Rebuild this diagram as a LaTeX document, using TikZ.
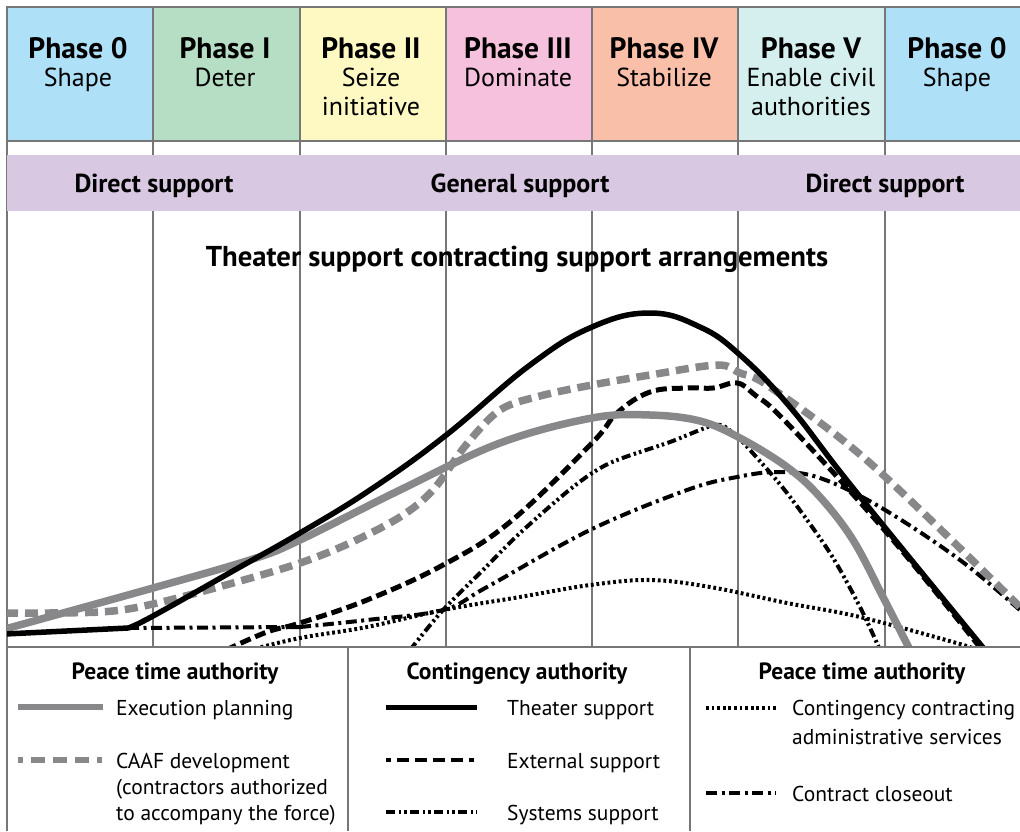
\documentclass[tikz,border=0pt]{standalone}
\usepackage{fontspec}
\setmainfont{PT Sans}
\definecolor{pzero}{HTML}{AEE0F7}
\definecolor{pone}{HTML}{B5DEC4}
\definecolor{ptwo}{HTML}{FEF8C3}
\definecolor{pthree}{HTML}{F6C1DC}
\definecolor{pfour}{HTML}{F9BFA8}
\definecolor{pfive}{HTML}{D5EFEE}
\definecolor{band}{HTML}{D9C8E1}
\definecolor{rule}{HTML}{777777}
\definecolor{curvegray}{HTML}{88888B}
\begin{document}
\begin{tikzpicture}[x=1pt,y=-1pt,
  frame/.style={draw=rule, line width=1.3pt},
  grid/.style={draw=rule, line width=1.1pt},
  ptitle/.style={anchor=base, font=\fontsize{29.5}{31}\selectfont\bfseries},
  psub/.style={anchor=base, font=\fontsize{26}{28}\selectfont},
  bandtxt/.style={anchor=base, font=\fontsize{26}{28}\selectfont\bfseries},
  legtitle/.style={anchor=base, font=\fontsize{23.5}{25}\selectfont\bfseries},
  legtxt/.style={anchor=base west, font=\fontsize{21.5}{23}\selectfont, inner sep=0pt},
  execline/.style={draw=curvegray, line width=7.5pt},
  caafline/.style={draw=curvegray, line width=7.5pt, dash pattern=on 13pt off 7pt},
  theaterline/.style={draw=black, line width=5.5pt},
  externalline/.style={draw=black, line width=5pt, dash pattern=on 11pt off 5pt},
  systemsline/.style={draw=black, line width=4pt, dash pattern=on 9pt off 3.5pt on 2.5pt off 3pt on 2.5pt off 3.5pt},
  closeline/.style={draw=black, line width=4pt, dash pattern=on 11pt off 4.5pt on 3pt off 4.5pt},
  adminline/.style={draw=black, line width=4pt, dash pattern=on 2.8pt off 2.8pt}
]
\useasboundingbox (0,0) rectangle (1020,831);
\fill[white] (0,0) rectangle (1020,831);

% phase boxes
\draw[frame, fill=pzero] (7,7) rectangle (153,141);
\draw[frame, fill=pone] (153,7) rectangle (300,141);
\draw[frame, fill=ptwo] (300,7) rectangle (446,141);
\draw[frame, fill=pthree] (446,7) rectangle (592,141);
\draw[frame, fill=pfour] (592,7) rectangle (738,141);
\draw[frame, fill=pfive] (738,7) rectangle (885,141);
\draw[frame, fill=pzero] (885,7) rectangle (1022,141);

\node[ptitle] (t0) at (78,58) {Phase 0};
\node[psub] (s0) at (78,86) {Shape};
\node[ptitle] (t1) at (225,58) {Phase I};
\node[psub] (s1) at (225,86) {Deter};
\node[ptitle] (t2) at (371,58) {Phase II};
\node[psub] (s2a) at (371,86) {Seize};
\node[psub] (s2b) at (371,115) {initiative};
\node[ptitle] (t3) at (518,58) {Phase III};
\node[psub] (s3) at (518,86) {Dominate};
\node[ptitle] (t4) at (664,58) {Phase IV};
\node[psub] (s4) at (664,86) {Stabilize};
\node[ptitle] (t5) at (811,58) {Phase V};
\node[psub] (s5a) at (811,86) {Enable civil};
\node[psub] (s5b) at (811,115) {authorities};
\node[ptitle] (t6) at (957,58) {Phase 0};
\node[psub] (s6) at (957,86) {Shape};

% vertical grid lines
\foreach \gx in {153,300,446,592,738,885}
  \draw[grid] (\gx,141) -- (\gx,647);
\draw[frame] (7,141) -- (7,831);

% band
\fill[band] (7,155) rectangle (1020,211);
\node[bandtxt] (b1) at (154,192) {Direct support};
\node[bandtxt] (b2) at (520,192) {General support};
\node[bandtxt] (b3) at (885,192) {Direct support};

\node[anchor=base, font=\fontsize{28.7}{30}\selectfont\bfseries] (title) at (517,266) {Theater support contracting support arrangements};

% curves
\begin{scope}
\clip (7,211) rectangle (1020,647);
\draw[adminline] plot[smooth, tension=0.6] coordinates {(250,650) (300,638) (367,627) (443,610) (520,597) (590,585) (650,580) (710,587) (787,603) (860,617) (960,644) (975,650)};
\draw[closeline] (128,628) -- (300,627) plot[smooth, tension=0.6] coordinates {(300,627) (367,620) (443,610) (487,587) (590,530) (687,490) (737,477) (778,472) (820,478) (880,507) (960,560) (1022,612)};
\draw[systemsline] plot[smooth, tension=0.5] coordinates {(410,650) (443,610) (483,570) (520,533) (573,487) (610,463) (670,442) (715,425) (732,432) (750,450) (787,493) (830,553) (860,607) (880,650)};
\draw[externalline] plot[smooth, tension=0.65] coordinates {(226,650) (267,632) (300,623) (367,600) (443,565) (510,522) (592,443) (617,413) (650,392) (687,388) (713,388) (737,383) (755,395) (787,423) (887,533) (982,650)};
\draw[caafline] plot[smooth, tension=0.55] coordinates {(5,613) (100,612) (153,604) (233,583) (300,563) (350,543) (400,517) (433,490) (466,445) (500,410) (540,396) (592,385) (650,375) (717,365) (740,373) (770,387) (870,463) (1022,609)};
\draw[execline] plot[smooth, tension=0.6] coordinates {(5,629) (153,588) (253,559) (300,540) (400,490) (500,443) (592,418) (650,415) (700,421) (740,438) (787,467) (820,497) (853,540) (883,597) (910,650)};
\draw[theaterline, line join=round] (5,634) -- (128,628) plot[smooth, tension=0.7] coordinates {(128,628) (153,616) (240,567) (300,533) (370,490) (445,436) (530,365) (592,327) (650,313) (700,327) (740,355) (790,407) (853,488) (985,650)};
\end{scope}

% legend frame
\draw[frame] (7,647) -- (1020,647);
\draw[frame] (348,647) -- (348,831);
\draw[frame] (690,647) -- (690,831);

\node[legtitle] (lh1) at (175,679) {Peace time authority};
\node[legtitle] (lh2) at (517,679) {Contingency authority};
\node[legtitle] (lh3) at (862,679) {Peace time authority};

\coordinate (e1) at (18,707); \coordinate (e2) at (103,707);
\draw[execline, line width=5.5pt] (e1) -- (e2);
\node[legtxt] (le) at (116,715) {Execution planning};

\coordinate (c1) at (18,760); \coordinate (c2) at (104,760);
\draw[caafline, line width=5.5pt, dash pattern=on 5pt off 8pt on 14pt off 8pt on 14pt off 8pt on 14pt off 8pt on 5pt] (c1) -- (c2);
\node[legtxt] (lc1) at (116,768) {CAAF development};
\node[legtxt] (lc2) at (116,794) {(contractors authorized};
\node[legtxt] (lc3) at (116,820) {to accompany the force)};

\coordinate (th1) at (386,707); \coordinate (th2) at (477,707);
\draw[theaterline, line width=5pt] (th1) -- (th2);
\node[legtxt] (lt) at (507,715) {Theater support};

\coordinate (ex1) at (386,760); \coordinate (ex2) at (477,760);
\draw[externalline, line width=4.5pt, dash pattern=on 5pt off 6pt on 12pt off 6pt on 12pt off 6pt on 12pt off 6pt on 12pt off 6pt] (ex1) -- (ex2);
\node[legtxt] (lx) at (507,768) {External support};

\coordinate (sy1) at (386,812); \coordinate (sy2) at (477,812);
\draw[systemsline, line width=3.5pt] (sy1) -- (sy2);
\node[legtxt] (ls) at (507,820) {Systems support};

\coordinate (ad1) at (706,708); \coordinate (ad2) at (776,708);
\draw[adminline, line width=3.5pt] (ad1) -- (ad2);
\node[legtxt] (la1) at (792,715) {Contingency contracting};
\node[legtxt] (la2) at (792,744) {administrative services};

\coordinate (cl1) at (706,793); \coordinate (cl2) at (776,793);
\draw[closeline, line width=3.5pt] (cl1) -- (cl2);
\node[legtxt] (lcl) at (792,801) {Contract closeout};
\end{tikzpicture}
\end{document}
